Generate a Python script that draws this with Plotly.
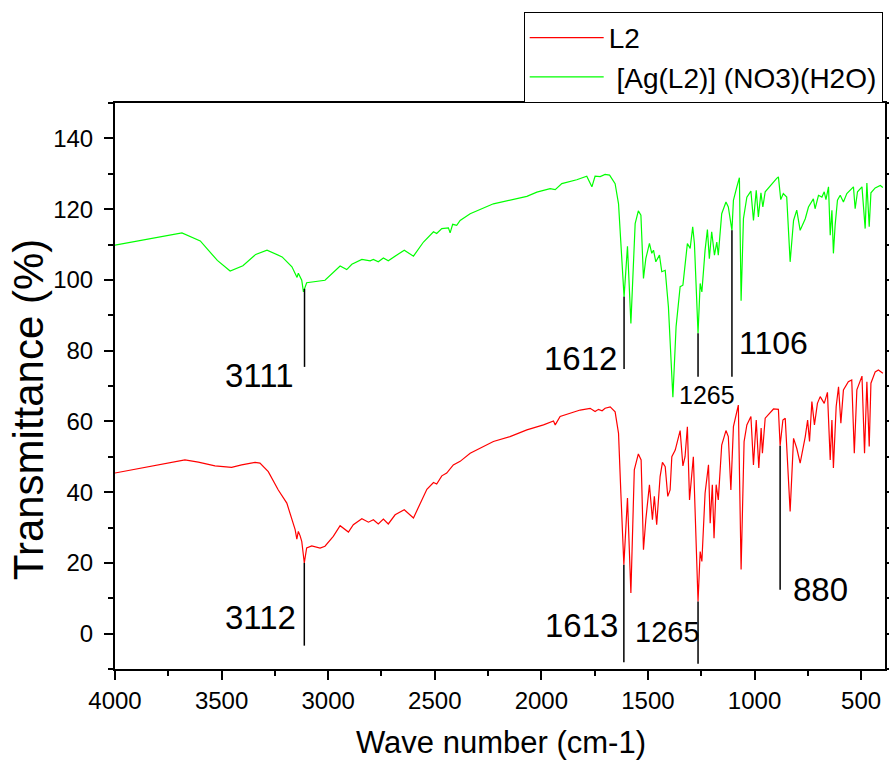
import numpy as np
import plotly.graph_objects as go

# ---------------- data ----------------
green_wn = [4000, 3686, 3600, 3520, 3460, 3400, 3340, 3287, 3216, 3170, 3146, 3140, 3124, 3116,
            3101, 3062, 3015, 2944, 2913, 2889, 2842, 2803, 2788, 2765, 2741, 2718, 2694, 2674,
            2643, 2600, 2553, 2506, 2491, 2467, 2436, 2428, 2416, 2397, 2381, 2334, 2225, 2147,
            2068, 2021, 1959, 1935, 1904, 1834, 1787, 1763, 1748, 1724, 1701, 1680, 1654, 1638,
            1627, 1612, 1596, 1580, 1560, 1545, 1533, 1521, 1510, 1493, 1482, 1474, 1463, 1446,
            1435, 1419, 1404, 1383, 1368, 1349, 1336, 1321, 1315, 1302, 1290, 1282, 1265, 1255,
            1247, 1232, 1221, 1212, 1201, 1188, 1177, 1170, 1154, 1134, 1123, 1106, 1099, 1083,
            1071, 1063, 1052, 1036, 1017, 1005, 992, 982, 970, 961, 950, 896, 888, 877, 865, 849,
            833, 817, 802, 786, 762, 747, 724, 716, 700, 684, 673, 665, 653, 645, 637, 630, 622,
            611, 598, 583, 567, 536, 528, 517, 496, 481, 473, 462, 454, 434, 410, 398]
green_t = [109.8, 113.3, 111.0, 105.5, 102.5, 104.0, 107.2, 108.4, 106.5, 103.7, 100.7, 101.9, 99.9, 96.6,
           99.2, 99.5, 99.9, 103.9, 102.9, 104.4, 105.8, 105.4, 105.8, 105.1, 106.2, 105.4, 106.5, 107.2,
           108.4, 106.7, 110.7, 113.6, 113.1, 114.5, 114.7, 113.3, 115.7, 115.4, 116.8, 118.7, 121.5, 122.5,
           123.6, 124.8, 125.8, 125.5, 127.2, 128.3, 129.3, 126.3, 129.3, 129.2, 129.8, 129.6, 127.2, 121.5,
           110.3, 95.2, 109.5, 87.7, 115.9, 119.5, 118.3, 100.4, 106.0, 110.3, 107.5, 108.4, 105.1, 107.0,
           102.3, 102.7, 92.4, 66.8, 86.8, 98.1, 98.5, 106.5, 110.3, 108.9, 115.0, 110.3, 84.9, 99.0,
           96.6, 108.4, 114.2, 106.0, 113.6, 107.0, 110.7, 107.0, 118.7, 122.0, 120.6, 114.0, 122.5, 126.3,
           128.9, 94.1, 117.3, 123.4, 125.1, 116.8, 125.3, 117.8, 124.6, 120.6, 124.9, 128.7, 129.1, 122.7, 124.4, 123.4,
           105.1, 116.8, 119.7, 114.0, 117.3, 120.6, 122.9, 120.1, 123.9, 123.4, 124.9, 122.7, 126.3, 112.6, 119.7, 107.5, 115.4,
           122.5, 123.9, 122.0, 124.4, 126.3, 120.1, 124.9, 126.3, 114.5, 127.4, 115.0, 124.6, 126.0, 126.7, 126.1]

red_wn = [4000, 3672, 3609, 3531, 3453, 3406, 3343, 3320, 3281, 3234, 3194, 3171, 3155, 3147,
          3140, 3132, 3124, 3112, 3101, 3077, 3062, 3038, 3015, 2976, 2944, 2905, 2882, 2842,
          2811, 2788, 2765, 2741, 2718, 2686, 2643, 2600, 2537, 2506, 2491, 2467, 2444, 2413,
          2381, 2334, 2225, 2147, 2068, 1990, 1943, 1935, 1912, 1818, 1771, 1748, 1732, 1715,
          1701, 1677, 1654, 1638, 1627, 1613, 1596, 1580, 1564, 1545, 1532, 1521, 1510, 1493,
          1479, 1470, 1459, 1443, 1432, 1419, 1407, 1396, 1388, 1372, 1349, 1336, 1326, 1315,
          1305, 1297, 1287, 1265, 1255, 1247, 1232, 1216, 1208, 1198, 1190, 1180, 1170, 1154,
          1134, 1123, 1111, 1099, 1076, 1063, 1049, 1036, 1017, 1005, 992, 980, 969, 963, 950,
          911, 888, 880, 867, 856, 833, 817, 802, 786, 762, 751, 742, 731, 719, 705, 692, 673,
          658, 645, 637, 630, 617, 606, 595, 583, 560, 544, 532, 520, 496, 484, 473, 462, 454,
          434, 419, 398]
red_t = [45.4, 49.1, 48.5, 47.4, 47.0, 47.7, 48.4, 48.2, 45.8, 40.6, 36.9, 32.7, 29.4, 26.7,
         28.9, 27.7, 26.1, 20.0, 24.2, 24.8, 24.5, 24.2, 24.7, 27.5, 30.5, 28.7, 30.8, 32.5,
         31.5, 32.2, 31.0, 32.4, 31.0, 33.6, 35.0, 32.7, 40.8, 42.7, 42.3, 44.6, 45.4, 47.7,
         48.7, 51.0, 54.3, 55.7, 57.6, 59.0, 60.1, 59.0, 61.4, 63.2, 63.7, 62.8, 63.4, 63.0,
         63.7, 64.1, 62.7, 56.6, 39.7, 19.5, 38.3, 11.5, 46.3, 50.8, 49.1, 23.7, 32.2, 42.1,
         32.2, 38.8, 30.8, 44.4, 48.4, 47.2, 38.8, 40.6, 50.0, 51.9, 57.4, 47.4, 50.0, 58.5,
         37.8, 43.9, 50.0, 9.1, 23.2, 20.4, 39.7, 47.7, 31.2, 42.1, 27.0, 42.1, 37.8, 53.3,
         57.4, 55.7, 40.6, 58.5, 64.6, 18.1, 54.3, 59.0, 61.4, 47.7, 60.4, 46.8, 58.1, 51.0, 60.9,
         63.5, 63.4, 53.1, 60.4, 60.9, 34.5, 55.2, 52.4, 48.2, 55.7, 60.4, 54.3, 65.6, 59.0, 65.1, 67.0, 65.1,
         68.2, 49.1, 60.4, 46.8, 64.2, 69.8, 59.5, 68.9, 71.2, 71.7, 51.0, 68.9, 72.8, 51.0, 71.2, 52.9, 70.8,
         74.0, 74.5, 73.6]

series_names = ["L2", "\u00a0[Ag(L2)] (NO3)(H2O)"]
series_colors = ["#ff0000", "#00ff00"]

# peak labels: series index, wavenumber, text, bottom of marker line, label position, anchor, font size
peak_series = [1, 1, 1, 1, 0, 0, 0, 0]
peak_wn = [3111, 1612, 1265, 1106, 3112, 1613, 1265, 880]
peak_text = ["3111", "1612", "1265", "1106", "3112", "1613", "1265", "880"]
line_bottom = [75.4, 74.8, 72.6, 72.6, -3.4, -8.1, -8.5, 12.4]
label_x = [3151, 1635, 1222, 1082, 3141, 1630, 1570, 828]
label_y = [73.1, 77.9, 67.5, 82.2, 4.5, 2.3, 0.6, 12.4]
label_anchor = ["right", "right", "center", "left", "right", "right", "left", "left"]
label_size = [33, 33, 25, 32, 33, 33, 29, 33]

x_ticks = [4000, 3500, 3000, 2500, 2000, 1500, 1000, 500]
y_ticks = [0, 20, 40, 60, 80, 100, 120, 140]
x_title = "Wave number (cm-1)"
y_title = "Transmittance (%)"

FONT = "Liberation Sans, Arial, sans-serif"

fig = go.Figure()
series = [(red_wn, red_t), (green_wn, green_t)]
for (wn, t), name, col in zip(series, series_names, series_colors):
    fig.add_trace(go.Scatter(x=wn, y=t, mode="lines", name=name,
                             line=dict(color=col, width=1.2)))

for s, wn, txt, yb, lx, ly, anc, fs in zip(peak_series, peak_wn, peak_text, line_bottom,
                                           label_x, label_y, label_anchor, label_size):
    xs, ys = series[s]
    ytop = float(np.interp(wn, xs[::-1], ys[::-1]))
    fig.add_shape(type="line", x0=wn, x1=wn, y0=ytop, y1=yb, xref="x", yref="y",
                  line=dict(color="black", width=1.5))
    fig.add_annotation(x=lx, y=ly, text=txt, showarrow=False, xanchor=anc, yanchor="middle",
                       font=dict(size=fs, color="black", family=FONT))

# axis titles
fig.add_annotation(x=0.501, y=-0.129, xref="paper", yref="paper", text=x_title, showarrow=False,
                   xanchor="center", yanchor="middle", font=dict(size=31, color="black", family=FONT))
fig.add_annotation(x=-0.113, y=0.459, xref="paper", yref="paper", text=y_title, showarrow=False,
                   textangle=-90, xanchor="center", yanchor="middle",
                   font=dict(size=42, color="black", family=FONT))

axis_common = dict(showline=True, linecolor="black", linewidth=2, ticks="outside",
                   ticklen=9, tickwidth=2, tickcolor="black", showgrid=False, zeroline=False,
                   automargin=False,
                   tickfont=dict(size=24, color="black", family=FONT))

fig.update_xaxes(range=[4000, 388], tickvals=x_ticks, mirror=True,
                 minor=dict(dtick=250, ticklen=5, tickwidth=2, tickcolor="black", ticks="outside"),
                 **axis_common)
fig.update_yaxes(range=[-10, 150], tickvals=y_ticks, mirror="ticks", ticklabelstandoff=6,
                 minor=dict(dtick=10, ticklen=5, tickwidth=2, tickcolor="black", ticks="outside"),
                 **axis_common)

fig.update_layout(
    width=889, height=762,
    margin=dict(l=115, r=4, t=103, b=93),
    plot_bgcolor="white", paper_bgcolor="white",
    font=dict(family=FONT, color="black"),
    showlegend=True,
    legend=dict(x=0.997, y=1.161, xanchor="right", yanchor="top",
                bgcolor="white", bordercolor="black", borderwidth=1,
                font=dict(size=28, color="black", family=FONT),
                itemwidth=74, tracegroupgap=0),
)

fig.write_html("out.html", config={"displayModeBar": False},
               post_script="document.body.style.margin='0';document.body.style.overflow='hidden';")
